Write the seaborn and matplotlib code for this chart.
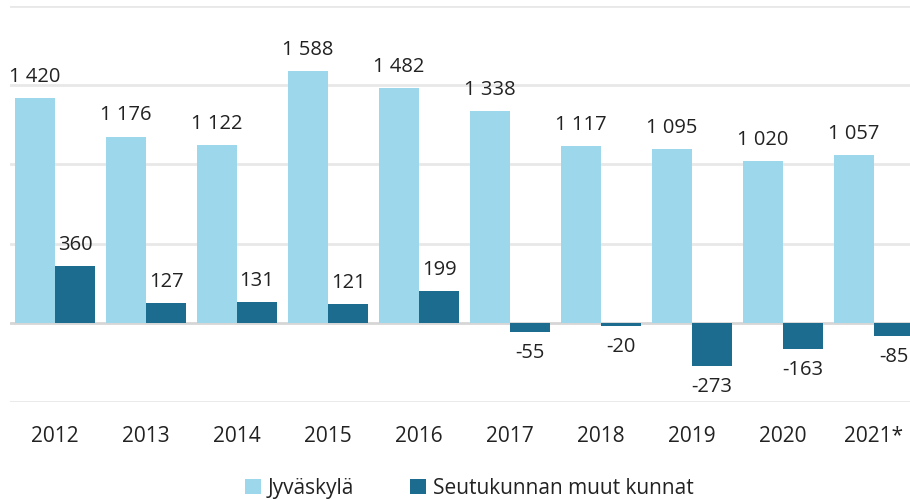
import matplotlib
matplotlib.use("Agg")
import matplotlib.pyplot as plt
import seaborn as sns
import pandas as pd
from matplotlib.patches import Patch

years = ["2012", "2013", "2014", "2015", "2016", "2017", "2018", "2019", "2020", "2021*"]
jyvaskyla = [1420, 1176, 1122, 1588, 1482, 1338, 1117, 1095, 1020, 1057]
muut = [360, 127, 131, 121, 199, -55, -20, -273, -163, -85]
series = ["Jyväskylä", "Seutukunnan muut kunnat"]
colors = ["#9DD7EC", "#1B6C8E"]

sns.set_theme(style="white")
plt.rcParams["font.family"] = ["Open Sans", "DejaVu Sans"]

df = pd.DataFrame({
    "year": years * 2,
    "value": jyvaskyla + muut,
    "series": [series[0]] * len(years) + [series[1]] * len(years),
})

fig = plt.figure(figsize=(9.1, 4.99), dpi=100)
ax = fig.add_axes([0.0105, 0.1944, 1.0, 0.7936])

for y in [-500, 500, 1000, 1500, 2000]:
    ax.axhline(y, color="#E8E8E8", lw=2, zorder=0)
ax.axhline(0, color="#D6D6D6", lw=2, zorder=0.5)

sns.barplot(data=df, x="year", y="value", hue="series", palette=colors,
            width=0.88, ax=ax, legend=False, saturation=1, zorder=2,
            linewidth=0, edgecolor="none")

def fmt(v):
    v = int(round(v))
    s = f"{abs(v):,}".replace(",", " ")
    return ("-" if v < 0 else "") + s

for cont in ax.containers:
    for bar, v in zip(cont, cont.datavalues):
        x = bar.get_x() + bar.get_width() / 2
        if v >= 0:
            ax.annotate(fmt(v), (x, v), xytext=(0, 8), textcoords="offset points",
                        ha="center", va="bottom", fontsize=14.5, color="#222222")
        else:
            ax.annotate(fmt(v), (x, v), xytext=(0, -8), textcoords="offset points",
                        ha="center", va="top", fontsize=14.5, color="#222222")

ax.set_ylim(-500, 2000)
ax.set_xlim(-0.5, 9.5)
ax.set_yticks([])
ax.set_xlabel("")
ax.set_ylabel("")
ax.tick_params(axis="x", length=0, labelsize=15, colors="#222222", pad=17)
for s in ax.spines.values():
    s.set_visible(False)

handles = [Patch(facecolor=c, edgecolor="none") for c in colors]
fig.legend(handles, series, loc="lower center", bbox_to_anchor=(0.516, -0.037), ncol=2,
           frameon=False, fontsize=15, handlelength=0.75, handleheight=0.75,
           handletextpad=0.35, columnspacing=2.7, labelcolor="#222222")

fig.savefig("out.png", dpi=100)
